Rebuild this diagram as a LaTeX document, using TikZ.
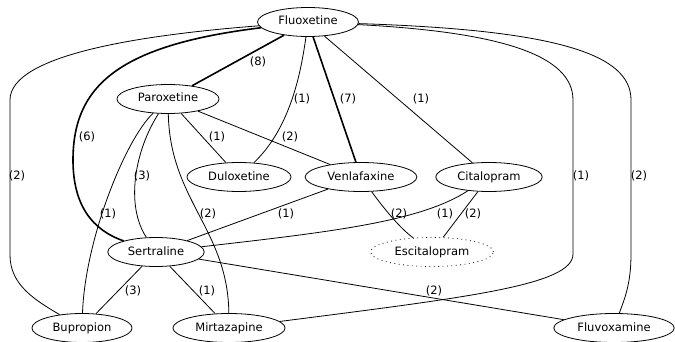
\documentclass[tikz,border=0pt]{standalone}
\usepackage{fontspec}
\setmainfont{DejaVu Sans}
\usetikzlibrary{shapes.geometric}
\tikzstyle{drug}=[draw, ellipse, inner xsep=6pt, inner ysep=4pt, minimum height=29pt, text height=8.5pt, text depth=2.5pt]
\tikzstyle{weight}=[inner sep=1pt]
\tikzstyle{heavy}=[line width=1.6pt]
\tikzstyle{every node}=[font=\fontsize{11.5}{13}\selectfont]

\begin{document}
\begin{tikzpicture}[x=1pt, y=-1pt, line width=0.8pt]
    \useasboundingbox (0,0) rectangle (675,342);
    % drugs
    \node[drug] (flu) at (308,22) {Fluoxetine};
    \node[drug] (par) at (168,99) {Paroxetine};
    \node[drug] (dul) at (239,177) {Duloxetine};
    \node[drug] (ven) at (361,177) {Venlafaxine};
    \node[drug] (cit) at (489,177) {Citalopram};
    \node[drug] (ser) at (156,252) {Sertraline};
    \node[drug, dash pattern=on 0.8pt off 3.6pt] (esc) at (432,252) {Escitalopram};
    \node[drug] (bup) at (82,328) {Bupropion};
    \node[drug] (mir) at (229,328) {Mirtazapine};
    \node[drug] (fluv) at (614,328) {Fluvoxamine};
    % from Fluoxetine
    \draw[heavy] (flu) -- (par);
    \draw[heavy] (flu) .. controls (120,45) and (73,85) .. (73,160) .. controls (73,205) and (92,230) .. (ser);
    \draw (flu) .. controls (140,35) and (10,55) .. (10,100) -- (10,255) .. controls (10,285) and (35,300) .. (bup);
    \draw (flu) .. controls (300,80) and (288,130) .. (dul);
    \draw[heavy] (flu) -- (ven);
    \draw (flu) -- (cit);
    \draw (flu) .. controls (500,32) and (573,55) .. (573,100) -- (573,254) .. controls (573,285) and (470,297) .. (mir);
    \draw (flu) .. controls (560,30) and (631,55) .. (631,100) -- (631,254) .. controls (631,285) and (624,300) .. (fluv);
    % from Paroxetine
    \draw (par) -- (dul);
    \draw (par) -- (ven);
    \draw (par) .. controls (125,140) and (85,240) .. (bup);
    \draw (par) .. controls (135,150) and (125,205) .. (ser);
    \draw (par) .. controls (170,200) and (228,230) .. (mir);
    % middle row
    \draw (ven) -- (ser);
    \draw (ven) .. controls (385,210) and (400,228) .. (esc);
    \draw (cit) .. controls (420,222) and (330,232) .. (ser);
    \draw (cit) -- (esc);
    % from Sertraline
    \draw (ser) -- (bup);
    \draw (ser) -- (mir);
    \draw (ser) -- (fluv);
    % weights
    \node[weight] (w-flu-par) at (258,62) {(8)};
    \node[weight] (w-flu-ser) at (87,137) {(6)};
    \node[weight] (w-flu-bup) at (17,176) {(2)};
    \node[weight] (w-flu-dul) at (302,99) {(1)};
    \node[weight] (w-flu-ven) at (348,99) {(7)};
    \node[weight] (w-flu-cit) at (421,99) {(1)};
    \node[weight] (w-flu-mir) at (581,176) {(1)};
    \node[weight] (w-flu-fluv) at (639,176) {(2)};
    \node[weight] (w-par-dul) at (217,137) {(1)};
    \node[weight] (w-par-ven) at (290,137) {(2)};
    \node[weight] (w-par-bup) at (108,214) {(1)};
    \node[weight] (w-par-ser) at (142,176) {(3)};
    \node[weight] (w-par-mir) at (208,214) {(2)};
    \node[weight] (w-ven-ser) at (286,214) {(1)};
    \node[weight] (w-ven-esc) at (399,214) {(2)};
    \node[weight] (w-cit-ser) at (445,214) {(1)};
    \node[weight] (w-cit-esc) at (473,214) {(2)};
    \node[weight] (w-ser-bup) at (133,291) {(3)};
    \node[weight] (w-ser-mir) at (207,291) {(1)};
    \node[weight] (w-ser-fluv) at (434,291) {(2)};
\end{tikzpicture}
\end{document}
